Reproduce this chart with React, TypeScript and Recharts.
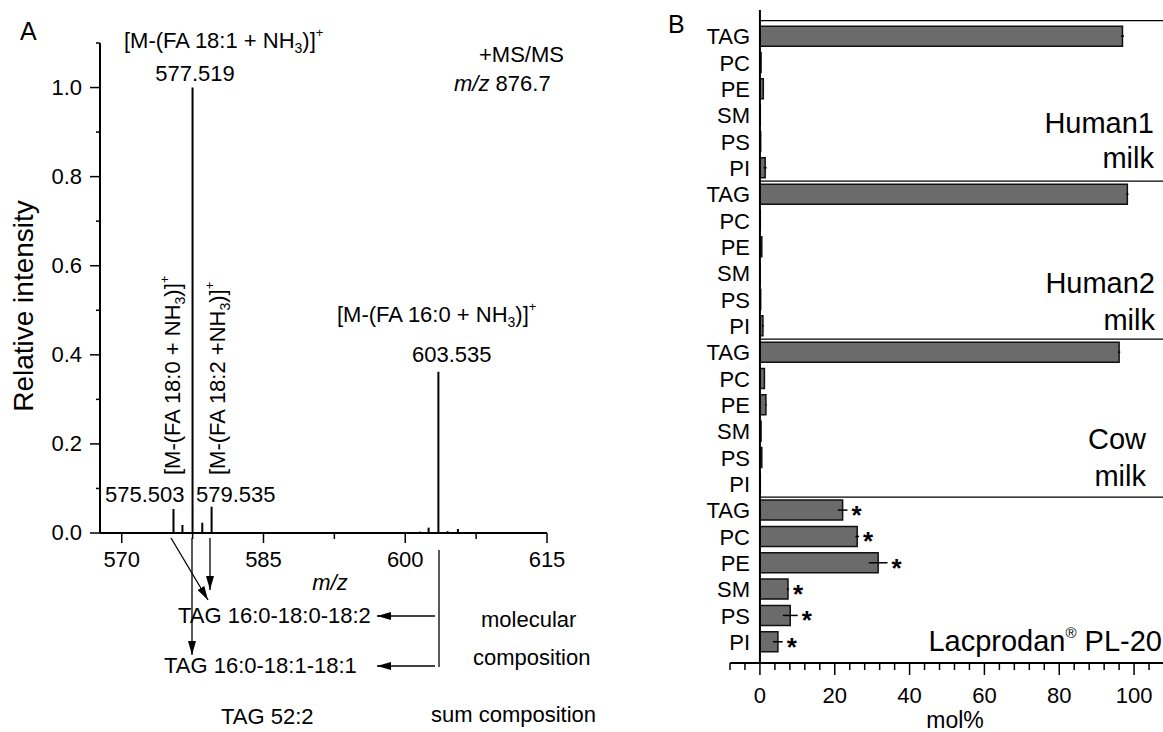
import React from 'react';
import { BarChart, Bar, XAxis, YAxis, ErrorBar, LabelList, ReferenceLine } from 'recharts';

const FONT = '"Liberation Sans", Arial, Helvetica, sans-serif';

// Panel A: +MS/MS spectrum of m/z 876.7
const peakMz = [575.503, 576.45, 577.519, 578.55, 579.535, 601.6, 602.5, 603.535, 604.5, 605.6];
const peakIntensity = [0.054, 0.018, 1.0, 0.023, 0.059, 0.003, 0.012, 0.362, 0.004, 0.009];
const mzTicks = [570, 577.5, 585, 592.5, 600, 607.5, 615];
const mzLabels = [570, 585, 600, 615];
const intensityTicks = [0, 0.1, 0.2, 0.3, 0.4, 0.5, 0.6, 0.7, 0.8, 0.9, 1.0, 1.1];

// Panel B: lipid class composition (mol%)
const lipidClasses = ['TAG', 'PC', 'PE', 'SM', 'PS', 'PI'];
const sampleNames = ['Human1 milk', 'Human2 milk', 'Cow milk', 'Lacprodan PL-20'];
const human1Mean = [96.9, 0.3, 0.9, 0.1, 0.2, 1.4];
const human1Sd = [0.4, 0.05, 0.1, 0, 0.05, 0.4];
const human2Mean = [98.2, 0.1, 0.5, 0.05, 0.2, 0.8];
const human2Sd = [0.3, 0, 0.05, 0, 0.05, 0.2];
const cowMean = [96.0, 1.2, 1.6, 0.3, 0.5, 0.1];
const cowSd = [0.3, 0.1, 0.2, 0.05, 0.05, 0];
const lacprodanMean = [22.1, 26.0, 31.6, 7.5, 8.1, 4.8];
const lacprodanSd = [1.3, 0.5, 2.5, 0.3, 2.0, 1.3];
const noSig = ['', '', '', '', '', ''];
const lacprodanSig = ['*', '*', '*', '*', '*', '*'];
const molTicks = [-8, -4, 0, 4, 8, 12, 16, 20, 24, 28, 32, 36, 40, 44, 48, 52, 56, 60, 64, 68, 72, 76, 80, 84, 88, 92, 96, 100, 104, 108];
const molLabels = [0, 20, 40, 60, 80, 100];
const groupEdges = [-0.6, 5.5, 11.5, 17.5];

const spectrum = peakMz.map((mz, i) => ({ mz, intensity: peakIntensity[i] }));

const groups = [
  { name: sampleNames[0], mean: human1Mean, sd: human1Sd, sig: noSig },
  { name: sampleNames[1], mean: human2Mean, sd: human2Sd, sig: noSig },
  { name: sampleNames[2], mean: cowMean, sd: cowSd, sig: noSig },
  { name: sampleNames[3], mean: lacprodanMean, sd: lacprodanSd, sig: lacprodanSig },
];

const compositionRows = groups.flatMap((g, gi) =>
  lipidClasses.map((cls, ci) => ({
    pos: gi * lipidClasses.length + ci,
    cls,
    sample: g.name,
    mean: g.mean[ci],
    sd: g.sd[ci],
    sig: g.sig[ci],
  }))
);
const rowTicks = compositionRows.map((r) => r.pos);

const axisStyle = { stroke: '#000', strokeWidth: 2 };

const IntensityTick = (props: any) => {
  const { x, y, payload } = props;
  const v = payload.value;
  const tenth = Math.round(v * 10);
  const major = tenth % 2 === 0 && tenth <= 10;
  return (
    <g>
      <line x1={x - (major ? 10 : 4)} y1={y} x2={x} y2={y} stroke="#000" strokeWidth={1.5} />
      {major && (
        <text x={x - 18} y={y} dy={7} textAnchor="end" fontSize={22} fontFamily={FONT} fill="#000">
          {v.toFixed(1)}
        </text>
      )}
    </g>
  );
};

const MzTick = (props: any) => {
  const { x, y, payload } = props;
  const major = mzLabels.includes(payload.value);
  return (
    <g>
      <line x1={x} y1={y} x2={x} y2={y + (major ? 10 : 6)} stroke="#000" strokeWidth={1.5} />
      {major && (
        <text x={x} y={y} dy={34} textAnchor="middle" fontSize={22} fontFamily={FONT} fill="#000">
          {payload.value}
        </text>
      )}
    </g>
  );
};

const MolTick = (props: any) => {
  const { x, y, payload } = props;
  const major = molLabels.includes(payload.value);
  return (
    <g>
      <line x1={x} y1={y} x2={x} y2={y + (major ? 12 : 7)} stroke="#000" strokeWidth={1.5} />
      {major && (
        <text x={x} y={y} dy={40} textAnchor="middle" fontSize={22} fontFamily={FONT} fill="#000">
          {payload.value}
        </text>
      )}
    </g>
  );
};

const ClassTick = (props: any) => {
  const { x, y, payload } = props;
  const row = compositionRows[payload.value];
  if (!row) return null;
  return (
    <text x={x + 20} y={y} dy={8} textAnchor="end" fontSize={22} fontFamily={FONT} fill="#000">
      {row.cls}
    </text>
  );
};

const renderStar = (props: any) => {
  const { value, index } = props;
  if (!value) return null;
  const vb = props.viewBox || props;
  const { x, y, width, height } = vb;
  const row = compositionRows[index];
  if (!row) return null;
  const pxPerUnit = row.mean ? width / row.mean : 0;
  const cx = x + width + row.sd * pxPerUnit + 9;
  return (
    <text x={cx} y={y + height / 2 + 14} textAnchor="middle" fontSize={26} fontWeight="bold" fontFamily={FONT} fill="#000">
      {value}
    </text>
  );
};

const Ion = ({ x, y, body, rotate }: { x: number; y: number; body: string; rotate?: boolean }) => (
  <text x={x} y={y} transform={rotate ? `rotate(-90 ${x} ${y})` : undefined} fontSize={22}>
    {body}
    <tspan dy={5} fontSize={14}>3</tspan>
    <tspan dy={-5}>)]</tspan>
    <tspan dy={-11} fontSize={13}>+</tspan>
  </text>
);

const Overlay = () => (
  <svg
    width={1163}
    height={732}
    style={{ position: 'absolute', left: 0, top: 0, pointerEvents: 'none' }}
    fontFamily={FONT}
    fill="#000"
  >
    <defs>
      <marker id="head" markerUnits="userSpaceOnUse" markerWidth={14} markerHeight={8} refX={14} refY={4} orient="auto">
        <path d="M0,0 L14,4 L0,8 z" fill="#000" />
      </marker>
    </defs>

    {/* panel letters */}
    <text x={20} y={40} fontSize={25}>A</text>
    <text x={668} y={33} fontSize={25}>B</text>

    {/* panel A annotations */}
    <text x={33} y={306} fontSize={28} textAnchor="middle" transform="rotate(-90 33 306)">Relative intensity</text>
    <Ion x={124} y={48} body="[M-(FA 18:1 + NH" />
    <text x={195} y={81} fontSize={22} textAnchor="middle">577.519</text>
    <text x={479} y={62} fontSize={22}>+MS/MS</text>
    <text x={454} y={91} fontSize={22}>
      <tspan fontStyle="italic">m/z</tspan> 876.7
    </text>
    <Ion x={180} y={475} body="[M-(FA 18:0 + NH" rotate />
    <Ion x={225} y={475} body="[M-(FA 18:2 +NH" rotate />
    <text x={105} y={502} fontSize={22}>575.503</text>
    <text x={196} y={502} fontSize={22}>579.535</text>
    <Ion x={337} y={322} body="[M-(FA 16:0 + NH" />
    <text x={412} y={362} fontSize={22}>603.535</text>
    <text x={330} y={590} fontSize={22} fontStyle="italic" textAnchor="middle">m/z</text>

    <text x={178} y={623} fontSize={22}>TAG 16:0-18:0-18:2</text>
    <text x={164} y={673} fontSize={22}>TAG 16:0-18:1-18:1</text>
    <text x={221} y={724} fontSize={22}>TAG 52:2</text>
    <text x={481} y={627} fontSize={22}>molecular</text>
    <text x={473} y={665} fontSize={22}>composition</text>
    <text x={431} y={722} fontSize={22}>sum composition</text>

    <g stroke="#000" strokeWidth={1.3} fill="none">
      <line x1={171} y1={538} x2={208} y2={600} markerEnd="url(#head)" />
      <line x1={192} y1={538} x2={192} y2={655} markerEnd="url(#head)" />
      <line x1={210} y1={538} x2={210} y2={590} markerEnd="url(#head)" />
      <line x1={439} y1={550} x2={439} y2={667} />
      <line x1={435} y1={616} x2={377} y2={616} markerEnd="url(#head)" />
      <line x1={435} y1={666} x2={377} y2={666} markerEnd="url(#head)" />
    </g>

    {/* panel B group names */}
    <g fontSize={29} textAnchor="end">
      <text x={1154} y={133}>Human1</text>
      <text x={1154} y={168}>milk</text>
      <text x={1155} y={293}>Human2</text>
      <text x={1155} y={330}>milk</text>
      <text x={1146} y={449}>Cow</text>
      <text x={1146} y={486}>milk</text>
      <text x={1162} y={651}>
        Lacprodan<tspan dy={-13} fontSize={15}>®</tspan>
        <tspan dy={13}> PL-20</tspan>
      </text>
    </g>
    <text x={955} y={728} fontSize={23} textAnchor="middle">mol%</text>
  </svg>
);

export default function App() {
  return (
    <div
      style={{
        position: 'absolute',
        left: 0,
        top: 0,
        width: 1163,
        height: 732,
        overflow: 'hidden',
        background: '#fff',
        fontFamily: FONT,
      }}
    >
      <div style={{ position: 'absolute', left: 0, top: 0 }}>
        <BarChart width={600} height={732} data={spectrum} margin={{ top: 43, right: 53, bottom: 169, left: 40 }}>
          <XAxis
            type="number"
            dataKey="mz"
            domain={[567.7, 615]}
            ticks={mzTicks}
            interval={0}
            tickSize={0}
            tickMargin={0}
            tickLine={false}
            tick={MzTick}
            axisLine={axisStyle}
            height={30}
            allowDataOverflow
          />
          <YAxis
            type="number"
            domain={[0, 1.1]}
            ticks={intensityTicks}
            interval={0}
            tickSize={0}
            tickMargin={0}
            tickLine={false}
            tick={IntensityTick}
            axisLine={axisStyle}
            width={60}
            allowDataOverflow
          />
          <Bar dataKey="intensity" fill="#000" barSize={2} isAnimationActive={false} />
        </BarChart>
      </div>

      <div style={{ position: 'absolute', left: 640, top: 0 }}>
        <BarChart
          layout="vertical"
          width={525}
          height={732}
          data={compositionRows}
          margin={{ top: 10, right: 1, bottom: 39, left: 30 }}
        >
          <XAxis
            type="number"
            domain={[-8, 108]}
            ticks={molTicks}
            interval={0}
            tickSize={0}
            tickMargin={0}
            tickLine={false}
            tick={MolTick}
            axisLine={axisStyle}
            height={30}
            allowDataOverflow
          />
          <YAxis
            type="number"
            dataKey="pos"
            domain={[-1, 23.8]}
            ticks={rowTicks}
            interval={0}
            tickSize={0}
            tickMargin={0}
            tickLine={false}
            tick={ClassTick}
            axisLine={false}
            width={60}
            allowDataOverflow
          />
          {groupEdges.map((e) => (
            <ReferenceLine
              key={e}
              segment={[
                { x: 0, y: e },
                { x: 108, y: e },
              ]}
              stroke="#000"
              strokeWidth={1.2}
            />
          ))}
          <ReferenceLine x={0} stroke="#000" strokeWidth={2} />
          <Bar dataKey="mean" fill="#6b6b6b" stroke="#111" strokeWidth={1.5} barSize={20} isAnimationActive={false}>
            <ErrorBar dataKey="sd" direction="x" width={0} stroke="#000" strokeWidth={1.5} />
            <LabelList dataKey="sig" content={renderStar} />
          </Bar>
        </BarChart>
      </div>

      <Overlay />
    </div>
  );
}
